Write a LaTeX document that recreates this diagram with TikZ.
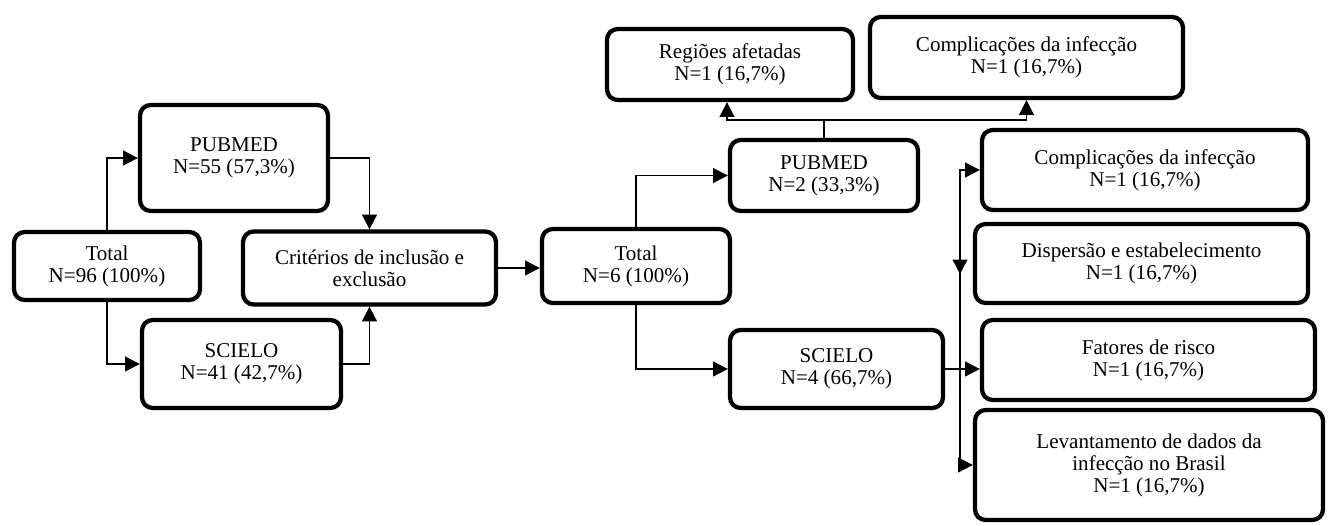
\documentclass[tikz,border=0pt]{standalone}
\usepackage{fontspec}
\setmainfont{Liberation Serif}
\usetikzlibrary{arrows.meta}
\begin{document}
\begin{tikzpicture}[x=0.75pt,y=-0.75pt,
  box/.style={draw,line width=3.2pt,rounded corners=8pt,align=center,inner sep=2pt,
    font=\fontsize{15.8}{16.5}\selectfont},
  conn/.style={line width=1.3pt},
  arr/.style={conn,-{Triangle[length=11pt,width=11pt]}}]
\useasboundingbox (0,0) rectangle (1328,525);
% left part
\node[box,minimum width=141pt,minimum height=79.5pt] (pub1) at (234,158) {PUBMED\\N=55 (57,3\%)};
\node[box,minimum width=139.5pt,minimum height=51pt] (tot1) at (107,266) {Total\\N=96 (100\%)};
\node[box,minimum width=149.25pt,minimum height=66pt] (sci1) at (241.5,364) {SCIELO\\N=41 (42,7\%)};
\node[box,minimum width=189.75pt,minimum height=54.75pt] (crit) at (369.5,268) {Critérios de inclusão e\\exclusão};
% middle
\node[box,minimum width=141pt,minimum height=55.5pt] (tot2) at (636,266) {Total\\N=6 (100\%)};
\node[box,minimum width=141pt,minimum height=53.25pt] (pub2) at (824,175.5) {PUBMED\\N=2 (33,3\%)};
\node[box,minimum width=159.75pt,minimum height=58.5pt] (sci2) at (836.5,369) {SCIELO\\N=4 (66,7\%)};
% top
\node[box,minimum width=184.5pt,minimum height=53.25pt] (reg) at (730,64.5) {Regiões afetadas\\N=1 (16,7\%)};
\node[box,minimum width=234.75pt,minimum height=60.75pt] (comp1) at (1026.5,57.5) {Complicações da infecção\\N=1 (16,7\%)};
% right column
\node[box,minimum width=244.5pt,minimum height=60pt] (comp2) at (1145,170) {Complicações da infecção\\N=1 (16,7\%)};
\node[box,minimum width=249.75pt,minimum height=59.25pt] (disp) at (1141.5,263.5) {Dispersão e estabelecimento\\N=1 (16,7\%)};
\node[box,minimum width=249.75pt,minimum height=60pt] (fat) at (1148.5,360) {Fatores de risco\\N=1 (16,7\%)};
\node[box,minimum width=261pt,minimum height=82.5pt] (lev) at (1149,465) {Levantamento de dados da\\infecção no Brasil\\N=1 (16,7\%)};
% connectors left
\draw[arr] (tot1.north) |- (pub1.west);
\draw[arr] (tot1.south) |- (sci1.west);
\draw[arr] (pub1.east) -| (crit.north);
\draw[arr] (sci1.east) -| (crit.south);
\draw[arr] (crit.east) -- (crit.east -| tot2.west);
% connectors middle
\draw[arr] (tot2.north) |- (pub2.west);
\draw[arr] (tot2.south) |- (sci2.west);
% top hub
\coordinate (hub) at (824,120);
\draw[conn] (pub2.north) -- (hub);
\draw[arr] (hub) -| ([xshift=-2.25pt]reg.south);
\draw[arr] (hub) -| (comp1.south);
% right hub
\coordinate (rj) at (960,369);
\draw[conn] (sci2.east) -- (rj);
\draw[arr] (rj) |- (comp2.west);
\draw[arr] (rj) -- (rj -| fat.west);
\draw[arr] (rj) |- (lev.west);
\coordinate (dj) at ([yshift=-8pt]disp.west -| rj);
\draw[arr] (rj |- comp2.west) -- (dj);
\end{tikzpicture}
\end{document}
